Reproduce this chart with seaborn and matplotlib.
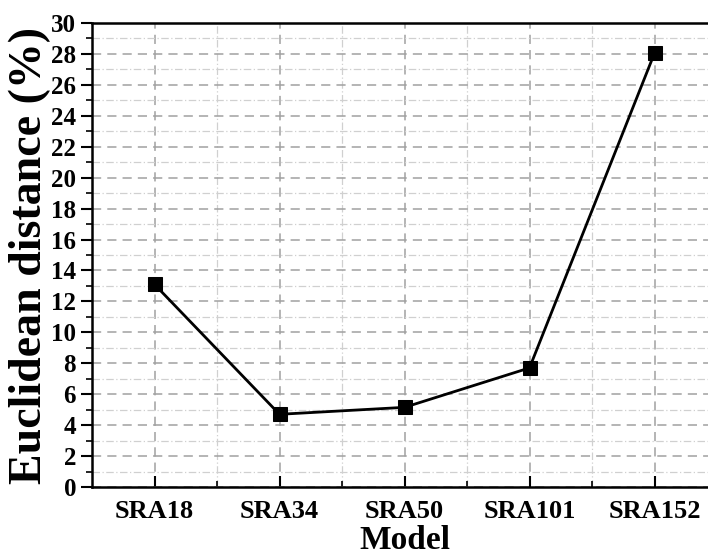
import pandas as pd
import matplotlib
matplotlib.use("Agg")
import matplotlib.pyplot as plt
from matplotlib.ticker import MultipleLocator
import seaborn as sns

models = ["SRA18", "SRA34", "SRA50", "SRA101", "SRA152"]
distance = [13.1, 4.7, 5.15, 7.7, 28.05]

data = pd.DataFrame({"Model": models, "dist": distance})
data["pos"] = range(len(models))

sns.set_style("ticks")
plt.rcParams["font.family"] = ["Liberation Serif", "DejaVu Serif"]
plt.rcParams["font.weight"] = "bold"
plt.rcParams["text.color"] = "black"
plt.rcParams["axes.labelcolor"] = "black"
plt.rcParams["xtick.color"] = "black"
plt.rcParams["ytick.color"] = "black"
plt.rcParams["axes.edgecolor"] = "black"

fig = plt.figure(figsize=(7.08, 5.55), dpi=100)
ax = fig.add_axes([92 / 708, 68 / 555, 625 / 708, 464 / 555])

sns.lineplot(data=data, x="pos", y="dist", ax=ax, color="black", linewidth=2.0,
             marker="s", markersize=10, markeredgecolor="black", zorder=5)

ax.set_xlim(-0.5, 4.5)
ax.set_ylim(0, 30)
ax.set_xticks(data["pos"])
ax.set_xticklabels(models)
ax.xaxis.set_minor_locator(plt.FixedLocator([0.5, 1.5, 2.5, 3.5]))
ax.yaxis.set_major_locator(MultipleLocator(2))
ax.yaxis.set_minor_locator(MultipleLocator(1))

ax.grid(which="major", color="#a0a0a0", linestyle=(0, (6, 4)), linewidth=1.1)
ax.grid(which="minor", color="#d0d0d0", linestyle=(0, (6, 2, 1, 2)), linewidth=0.9)
ax.set_axisbelow(True)

ax.tick_params(axis="y", which="major", direction="out", length=8, width=1.5, labelsize=18)
ax.tick_params(axis="y", which="minor", direction="out", length=4, width=1.2)
ax.tick_params(axis="x", which="major", direction="in", length=8, width=1.5, labelsize=19, pad=9)
ax.tick_params(axis="x", which="minor", direction="in", length=4, width=1.2)
for lab in ax.get_xticklabels() + ax.get_yticklabels():
    lab.set_fontweight("bold")

for s in ax.spines.values():
    s.set_linewidth(1.8)

ax.set_xlabel("Model", fontsize=24, fontweight="bold", labelpad=2)
ax.set_ylabel("Euclidean distance (%)", fontsize=33, fontweight="bold", labelpad=0)

fig.savefig("out.png", dpi=100)
